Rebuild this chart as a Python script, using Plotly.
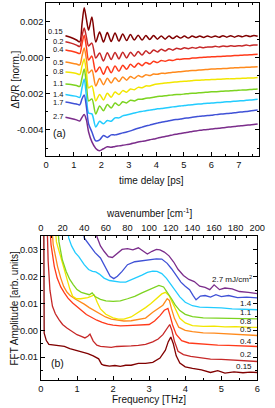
import numpy as np
import plotly.graph_objects as go

# ---------------- panel (a): time-domain traces (values in units of 1e-3) ----------------
t_ps = [0.7, 0.9, 1.1, 1.22, 1.3, 1.38, 1.46, 1.54, 1.66, 1.8, 1.94, 2.08, 2.22, 2.36, 2.5, 2.64,
        2.78, 2.92, 3.06, 3.2, 3.34, 3.48, 3.62, 3.76, 3.9, 4.04, 4.18, 4.32, 4.46, 4.6, 4.74, 4.88,
        5.02, 5.16, 5.3, 5.44, 5.58, 5.72, 5.86, 6.0, 6.14, 6.28, 6.42, 6.56, 6.7, 6.84, 6.98, 7.12,
        7.26, 7.4, 7.54, 7.68]

dr_015 = [1.22, 1.12, 0.98, 0.88, 1.86, 2.77, 2.14, 1.53, 2.25, 0.87,
          1.42, 0.87, 1.39, 0.90, 1.37, 0.92, 1.31, 0.95, 1.28, 0.98,
          1.25, 0.98, 1.23, 1.01, 1.23, 1.03, 1.20, 1.03, 1.20, 1.06,
          1.20, 1.09, 1.20, 1.09, 1.20, 1.12, 1.20, 1.12, 1.21, 1.13,
          1.21, 1.13, 1.22, 1.14, 1.22, 1.14, 1.22, 1.16, 1.23, 1.17, 1.23, 1.19]
dr_02 = [0.88, 0.81, 0.70, 0.62, 1.20, 1.64, 1.14, 0.65, 0.81, -0.02,
         0.26, -0.18, 0.28, -0.10, 0.29, -0.06, 0.30, -0.01, 0.31, 0.08,
         0.35, 0.15, 0.38, 0.23, 0.43, 0.32, 0.47, 0.37, 0.50, 0.42,
         0.52, 0.47, 0.55, 0.50, 0.56, 0.53, 0.59, 0.55, 0.60, 0.59,
         0.63, 0.60, 0.65, 0.62, 0.66, 0.64, 0.67, 0.65, 0.70, 0.67, 0.71, 0.70]
dr_04 = [0.43, 0.37, 0.29, 0.23, 0.76, 1.25, 0.59, -0.13, 0.09, -0.79,
         -0.51, -0.92, -0.49, -0.83, -0.46, -0.75, -0.42, -0.64, -0.36, -0.53,
         -0.30, -0.44, -0.26, -0.35, -0.20, -0.27, -0.15, -0.20, -0.12, -0.15,
         -0.09, -0.09, -0.05, -0.06, -0.02, -0.01, 0.01, 0.02, 0.04, 0.05,
         0.06, 0.07, 0.08, 0.09, 0.10, 0.12, 0.13, 0.14, 0.15, 0.16, 0.18, 0.19]
dr_05 = [-0.24, -0.29, -0.35, -0.40, 0.09, 0.54, -0.07, -0.85, -0.68, -1.56,
         -1.15, -1.49, -1.13, -1.40, -1.11, -1.32, -1.07, -1.24, -1.04, -1.15,
         -0.99, -1.07, -0.94, -0.99, -0.90, -0.92, -0.86, -0.87, -0.83, -0.81,
         -0.79, -0.77, -0.75, -0.73, -0.71, -0.70, -0.68, -0.66, -0.65, -0.63,
         -0.62, -0.61, -0.60, -0.59, -0.57, -0.56, -0.55, -0.54, -0.53, -0.52, -0.51, -0.50]
dr_08 = [-0.79, -0.82, -0.87, -0.93, -0.46, -0.07, -0.79, -1.67, -1.56, -2.39,
         -2.03, -2.34, -1.97, -2.19, -1.90, -2.04, -1.82, -1.91, -1.73, -1.77,
         -1.64, -1.66, -1.56, -1.56, -1.49, -1.45, -1.43, -1.40, -1.38, -1.36,
         -1.34, -1.32, -1.30, -1.29, -1.27, -1.25, -1.24, -1.23, -1.22, -1.21,
         -1.20, -1.19, -1.18, -1.17, -1.17, -1.16, -1.15, -1.14, -1.13, -1.12, -1.12, -1.10]
dr_11 = [-1.45, -1.48, -1.54, -1.59, -1.12, -0.62, -1.45, -2.39, -2.28, -3.11,
         -2.67, -2.93, -2.59, -2.78, -2.51, -2.64, -2.44, -2.50, -2.35, -2.39,
         -2.30, -2.30, -2.24, -2.23, -2.19, -2.15, -2.13, -2.10, -2.08, -2.06,
         -2.04, -2.03, -2.01, -1.99, -1.97, -1.96, -1.94, -1.92, -1.91, -1.89,
         -1.88, -1.87, -1.85, -1.84, -1.83, -1.82, -1.80, -1.79, -1.78, -1.76, -1.75, -1.73]
dr_14 = [-2.04, -2.09, -2.14, -2.20, -1.67, -1.18, -2.12, -3.06, -3.11, -3.83,
         -3.52, -3.66, -3.47, -3.52, -3.33, -3.33, -3.22, -3.17, -3.11, -3.06,
         -3.01, -2.97, -2.93, -2.90, -2.87, -2.83, -2.81, -2.78, -2.75, -2.72,
         -2.70, -2.67, -2.64, -2.62, -2.60, -2.57, -2.56, -2.54, -2.52, -2.51,
         -2.49, -2.48, -2.46, -2.44, -2.43, -2.41, -2.39, -2.38, -2.36, -2.34, -2.33, -2.30]
dr_17 = [-2.45, -2.50, -2.56, -2.61, -2.28, -2.06, -2.72, -3.66, -4.11, -4.60,
         -4.55, -4.30, -4.41, -4.27, -4.27, -4.22, -4.16, -4.11, -4.05, -3.97,
         -3.90, -3.84, -3.78, -3.73, -3.67, -3.62, -3.57, -3.53, -3.49, -3.45,
         -3.42, -3.39, -3.35, -3.33, -3.30, -3.27, -3.24, -3.22, -3.20, -3.18,
         -3.15, -3.13, -3.11, -3.09, -3.07, -3.04, -3.02, -3.00, -2.98, -2.95, -2.92, -2.90]
dr_27 = [-3.29, -3.36, -3.44, -3.50, -3.30, -3.14, -3.44, -4.11, -4.66, -5.02,
         -5.15, -5.04, -4.93, -4.96, -4.91, -4.88, -4.85, -4.81, -4.77, -4.72,
         -4.67, -4.63, -4.59, -4.54, -4.50, -4.45, -4.40, -4.36, -4.32, -4.27,
         -4.23, -4.19, -4.15, -4.12, -4.08, -4.05, -4.02, -3.99, -3.97, -3.94,
         -3.92, -3.90, -3.87, -3.85, -3.83, -3.81, -3.78, -3.76, -3.74, -3.72, -3.70, -3.67]

fluence_labels = ["0.15", "0.2", "0.4", "0.5", "0.8", "1.1", "1.4", "1.7", "2.7"]
colors = ["#800000", "#c62828", "#ff3a1a", "#ff8a1c", "#f2e600", "#7cd320", "#22ccff", "#3f51d6", "#7b2d8b"]
top_series = [dr_015, dr_02, dr_04, dr_05, dr_08, dr_11, dr_14, dr_17, dr_27]
top_label_y = [1.47, 0.88, 0.43, -0.24, -0.79, -1.45, -2.04, -2.50, -3.28]   # 1e-3

# ---------------- panel (b): FFT amplitude (values in units of 0.01) ----------------
f_015 = [0.0, 0.08, 0.09, 0.15, 0.22, 0.35, 0.5, 0.65, 0.8, 0.95, 1.15, 1.3, 1.45, 1.6, 1.68, 1.75, 1.9, 2.05,
         2.2, 2.35, 2.5, 2.7, 2.9, 3.1, 3.3, 3.45, 3.53, 3.6, 3.67, 3.75, 3.85, 4.0, 4.2, 4.45, 4.7, 4.9,
         5.1, 5.35, 5.6, 5.8, 6.0]
a_015 = [8.0, 4.0, -0.1, -0.38, -0.52, -0.55, -0.56, -0.60, -0.68, -0.73, -0.81, -0.87, -0.95, -1.06, -1.26,
         -1.30, -1.33, -1.31, -1.34, -1.30, -1.30, -1.23, -1.23, -1.19, -1.03, -0.74, -0.42, -0.25, -0.50,
         -0.95, -1.22, -1.36, -1.42, -1.47, -1.57, -1.50, -1.59, -1.55, -1.58, -1.56, -1.57]
f_02 = [0.0, 0.15, 0.2, 0.25, 0.32, 0.4, 0.5, 0.6, 0.72, 0.85, 1.0, 1.12, 1.22, 1.3, 1.36, 1.45, 1.55, 1.65,
        1.8, 1.95, 2.1, 2.3, 2.5, 2.7, 2.9, 3.1, 3.25, 3.38, 3.48, 3.57, 3.63, 3.7, 3.8, 3.95, 4.15, 4.4,
        4.7, 5.0, 5.3, 5.6, 6.0]
a_02 = [8.0, 5.0, 2.6, 1.5, 0.90, 0.62, 0.40, 0.22, 0.09, -0.02, -0.16, -0.22, -0.28, -0.22, -0.14, -0.40,
        -0.55, -0.60, -0.61, -0.63, -0.60, -0.60, -0.58, -0.56, -0.52, -0.43, -0.32, -0.16, 0.05, 0.22,
        0.00, -0.40, -0.78, -0.90, -0.97, -1.02, -1.07, -1.08, -1.10, -1.12, -1.16]
f_04 = [0.0, 0.22, 0.28, 0.37, 0.45, 0.55, 0.65, 0.75, 0.88, 1.0, 1.12, 1.26, 1.4, 1.55, 1.7, 1.85, 2.0,
        2.2, 2.4, 2.6, 2.8, 3.0, 3.15, 3.3, 3.42, 3.52, 3.58, 3.65, 3.75, 3.9, 4.1, 4.35, 4.6, 4.9, 5.2,
        5.5, 5.8, 6.0]
a_04 = [8.0, 4.5, 3.2, 2.39, 1.95, 1.62, 1.40, 1.20, 1.02, 0.90, 0.75, 0.59, 0.48, 0.38, 0.30, 0.23, 0.20,
        0.17, 0.18, 0.20, 0.20, 0.22, 0.35, 0.55, 0.75, 0.82, 0.55, 0.20, -0.15, -0.38, -0.47, -0.50,
        -0.53, -0.55, -0.56, -0.58, -0.59, -0.60]
f_05 = [0.0, 0.27, 0.34, 0.46, 0.55, 0.63, 0.72, 0.81, 0.95, 1.08, 1.2, 1.34, 1.48, 1.61, 1.79, 1.95, 2.1,
        2.3, 2.5, 2.7, 2.9, 3.1, 3.25, 3.38, 3.5, 3.56, 3.62, 3.7, 3.82, 4.0, 4.2, 4.5, 4.8, 5.1, 5.4,
        5.7, 6.0]
a_05 = [8.0, 4.5, 3.2, 2.39, 1.95, 1.64, 1.43, 1.30, 1.17, 1.08, 0.98, 0.85, 0.75, 0.65, 0.50, 0.42, 0.38,
        0.35, 0.36, 0.40, 0.46, 0.68, 0.82, 0.94, 1.18, 1.12, 0.80, 0.45, 0.12, 0.00, -0.05, -0.09,
        -0.10, -0.12, -0.15, -0.17, -0.19]
f_08 = [0.0, 0.36, 0.43, 0.55, 0.65, 0.72, 0.8, 0.88, 0.99, 1.1, 1.2, 1.3, 1.4, 1.48, 1.56, 1.65, 1.8,
        2.0, 2.15, 2.3, 2.5, 2.7, 2.9, 3.05, 3.2, 3.35, 3.45, 3.55, 3.65, 3.75, 3.85, 4.0, 4.2, 4.5, 4.8,
        5.1, 5.4, 5.7, 6.0]
a_08 = [8.0, 4.5, 3.3, 2.71, 2.2, 1.90, 1.55, 1.27, 1.18, 1.18, 1.20, 1.22, 1.28, 1.32, 1.05, 0.80, 0.60,
        0.47, 0.42, 0.42, 0.50, 0.66, 0.85, 1.00, 1.18, 1.36, 1.42, 1.30, 1.02, 0.70, 0.45, 0.28, 0.18,
        0.15, 0.16, 0.13, 0.14, 0.12, 0.11]
f_11 = [0.0, 0.43, 0.5, 0.59, 0.7, 0.8, 0.9, 1.0, 1.12, 1.25, 1.34, 1.42, 1.5, 1.65, 1.8, 2.0, 2.2, 2.4,
        2.6, 2.8, 3.0, 3.15, 3.27, 3.4, 3.52, 3.62, 3.72, 3.85, 4.0, 4.2, 4.5, 4.8, 5.1, 5.4, 5.7, 6.0]
a_11 = [8.0, 4.5, 3.3, 2.65, 2.2, 1.90, 1.70, 1.52, 1.42, 1.36, 1.33, 1.40, 1.26, 1.16, 1.10, 1.08, 1.10,
        1.18, 1.27, 1.40, 1.52, 1.62, 1.68, 1.62, 1.40, 1.18, 0.95, 0.74, 0.60, 0.51, 0.47, 0.46, 0.45,
        0.44, 0.44, 0.43]
f_14 = [0.0, 0.7, 0.77, 0.85, 0.95, 1.05, 1.2, 1.32, 1.43, 1.52, 1.62, 1.75, 1.9, 2.05, 2.2, 2.35, 2.5,
        2.65, 2.8, 2.95, 3.1, 3.22, 3.35, 3.48, 3.6, 3.72, 3.85, 4.0, 4.2, 4.4, 4.7, 5.0, 5.3, 5.6, 6.0]
a_14 = [8.0, 4.5, 3.45, 3.15, 2.9, 2.75, 2.45, 2.27, 2.20, 2.18, 2.10, 1.95, 1.86, 1.82, 1.80, 1.80, 1.88,
        1.97, 2.06, 2.16, 2.21, 2.20, 2.12, 1.94, 1.73, 1.50, 1.25, 1.05, 0.92, 0.87, 0.86, 0.84, 0.80,
        0.79, 0.77]
f_17 = [0.0, 1.1, 1.2, 1.35, 1.5, 1.65, 1.8, 1.92, 2.02, 2.12, 2.25, 2.4, 2.6, 2.8, 3.0, 3.2, 3.35, 3.5,
        3.62, 3.75, 3.88, 4.0, 4.12, 4.22, 4.3, 4.42, 4.55, 4.7, 4.85, 5.0, 5.2, 5.45, 5.7, 6.0]
a_17 = [8.0, 4.5, 3.45, 3.15, 2.9, 2.70, 2.30, 2.02, 1.93, 2.02, 2.20, 2.45, 2.56, 2.60, 2.62, 2.67, 2.66,
        2.50, 2.30, 2.05, 1.80, 1.65, 1.52, 1.30, 1.14, 1.28, 1.30, 1.24, 1.33, 1.26, 1.30, 1.22, 1.24, 1.21]
f_27 = [0.0, 1.45, 1.55, 1.65, 1.75, 1.87, 1.98, 2.1, 2.25, 2.4, 2.55, 2.7, 2.85, 2.95, 3.08, 3.2, 3.3,
        3.42, 3.55, 3.68, 3.8, 3.95, 4.1, 4.25, 4.4, 4.55, 4.68, 4.8, 4.95, 5.1, 5.3, 5.5, 5.75, 6.0]
a_27 = [8.0, 4.5, 3.5, 3.15, 2.95, 2.75, 2.72, 2.85, 3.02, 3.05, 3.00, 3.08, 2.95, 2.85, 2.95, 3.02, 3.00,
        2.92, 2.78, 2.55, 2.28, 2.05, 1.90, 1.82, 1.65, 1.60, 1.52, 1.70, 1.52, 1.58, 1.55, 1.45, 1.42, 1.37]

bottom_f = [f_015, f_02, f_04, f_05, f_08, f_11, f_14, f_17, f_27]
bottom_a = [a_015, a_02, a_04, a_05, a_08, a_11, a_14, a_17, a_27]
bottom_labels = ["0.15", "0.2", "0.4", "0.5", "0.8", "1.1", "1.4", "2.7 mJ/cm<sup>2</sup>"]
bottom_label_y = [-1.34, -0.91, -0.41, 0.03, 0.32, 0.67, 0.99, 1.93]   # units of 0.01

THZ_TO_CM = 33.356

FONT = "Liberation Sans, Arial, sans-serif"
W, H = 275, 408
fig = go.Figure()

for ys, c in zip(top_series, colors):
    fig.add_trace(go.Scatter(x=t_ps, y=np.array(ys) * 1e-3, mode="lines",
                             line=dict(color=c, width=1.5, shape="spline", smoothing=0.8),
                             xaxis="x", yaxis="y", showlegend=False, hoverinfo="skip"))

for fs, a_s, c in zip(bottom_f, bottom_a, colors):
    fig.add_trace(go.Scatter(x=fs, y=np.array(a_s) * 0.01, mode="lines",
                             line=dict(color=c, width=1.3),
                             xaxis="x2", yaxis="y2", showlegend=False, hoverinfo="skip"))

# invisible trace to carry the wavenumber axis
fig.add_trace(go.Scatter(x=[0, 6 * THZ_TO_CM], y=[0, 0], mode="lines", line=dict(width=0),
                         opacity=0, xaxis="x3", yaxis="y2", showlegend=False, hoverinfo="skip"))

axcommon = dict(showgrid=False, zeroline=False, showline=True, linecolor="black", linewidth=1,
                ticks="inside", ticklen=4, tickcolor="black",
                tickfont=dict(family=FONT, size=9.3, color="#111"))

fig.update_layout(
    width=W, height=H, margin=dict(l=0, r=0, t=0, b=0),
    paper_bgcolor="white", plot_bgcolor="white",
    xaxis=dict(domain=[45 / W, 266.7 / W], anchor="y", range=[0, 7.73], tickmode="linear",
               tick0=0, dtick=1, mirror="ticks",
               minor=dict(dtick=0.5, ticks="inside", ticklen=2, tickcolor="black"), **axcommon),
    yaxis=dict(domain=[1 - 156 / H, 1 - 3 / H], anchor="x", range=[-0.00544, 0.00303],
               tickmode="array", tickvals=[-0.004, -0.002, 0.0, 0.002],
               ticktext=["-0.004", "-0.002", "0.000", "0.002"], mirror="ticks",
               minor=dict(tickvals=[-0.005, -0.003, -0.001, 0.001, 0.003], ticks="inside",
                          ticklen=2, tickcolor="black"), **axcommon),
    xaxis2=dict(domain=[39.5 / W, 265 / W], anchor="y2", range=[0, 6], tickmode="linear",
                tick0=0, dtick=1, mirror=False,
                minor=dict(dtick=0.5, ticks="inside", ticklen=2, tickcolor="black"), **axcommon),
    yaxis2=dict(domain=[1 - 380 / H, 1 - 236 / H], anchor="x2", range=[-0.0185, 0.0352],
                tickmode="array", tickvals=[-0.01, 0.0, 0.01, 0.02, 0.03],
                ticktext=["-0.01", "0.00", "0.01", "0.02", "0.03"], mirror="ticks",
                minor=dict(tickvals=[-0.015, -0.005, 0.005, 0.015, 0.025], ticks="inside",
                           ticklen=2, tickcolor="black"), **axcommon),
    xaxis3=dict(overlaying="x2", side="top", anchor="y2", range=[0, 6 * THZ_TO_CM],
                tickmode="linear", tick0=0, dtick=20,
                minor=dict(dtick=10, ticks="inside", ticklen=2, tickcolor="black"), **axcommon),
)

ann = []
def txt(x, y, s, size=10, xanchor="center", yanchor="middle", angle=0, xref="paper", yref="paper"):
    ann.append(dict(x=x, y=y, xref=xref, yref=yref, text=s, showarrow=False, xanchor=xanchor,
                    yanchor=yanchor, textangle=angle, borderpad=0,
                    font=dict(family=FONT, size=size, color="#111")))

# axis titles (pixel positions converted to paper fractions)
txt(155 / W, 1 - 180 / H, "time delay [ps]", 10)
txt(12.5 / W, 1 - 79.5 / H, "ΔR/R [norm.]", 10, angle=-90)
txt(152 / W, 1 - 213 / H, "wavenumber [cm<sup>-1</sup>]", 10)
txt(152 / W, 1 - 399 / H, "Frequency [THz]", 10)
txt(11 / W, 1 - 308 / H, "FFT Amplitude [arb. units]", 10, angle=-90)
txt(58.5 / W, 1 - 133 / H, "(a)", 10.5)
txt(56.5 / W, 1 - 363 / H, "(b)", 10.5)

for lab, yv in zip(fluence_labels, top_label_y):
    txt(0.64, yv * 1e-3, lab, 7.5, xanchor="right", xref="x", yref="y")
for lab, yv in zip(bottom_labels, bottom_label_y):
    txt(5.88, yv * 0.01, lab, 8, xanchor="right", xref="x2", yref="y2")

fig.update_layout(annotations=ann)
fig.write_html("out.html", config={"displayModeBar": False},
               post_script="document.body.style.margin='0';document.body.style.overflow='hidden';")
